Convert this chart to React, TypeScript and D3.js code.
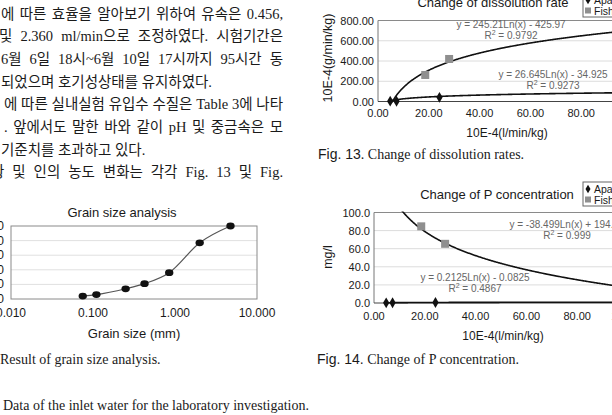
import React from 'react';
import * as d3 from 'd3';

// body text above the figures (left column, cut at the page edge)
const paragraphLines = [
  '에 따른 효율을 알아보기 위하여 유속은 0.456,',
  '및 2.360 ml/min으로 조정하였다. 시험기간은',
  '6월 6일 18시~6월 10일 17시까지 95시간 동',
  '되었으며 호기성상태를 유지하였다.',
  '에 따른 실내실험 유입수 수질은 Table 3에 나타',
  '. 앞에서도 말한 바와 같이 pH 및 중금속은 모',
  '기준치를 초과하고 있다.',
  '황 및 인의 농도 변화는 각각 Fig. 13 및 Fig.',
];
const lineStarts = [1, -1, 1, 1, 4, 4, 1, -9];
const lineJustified = [true, true, true, false, true, true, false, true];

// grain size analysis
const grainSizes = [0.075, 0.11, 0.25, 0.425, 0.85, 2.0, 4.75];
const grainPassing = [4, 6, 14, 21, 36, 77, 100];
const grainYTicks = [0, 20, 40, 60, 80, 100];
const grainXTicks = [0.01, 0.1, 1, 10];

// flow rates (same runs in Fig. 13 and Fig. 14)
const apatiteFlow = [4.8, 7.3, 24.2];
const fishFlow = [18.6, 28.0];
const flowTicks = [0, 20, 40, 60, 80, 100];

// Fig. 13 dissolution rate
const apatiteRate = [3, 2, 41];
const fishRate = [262, 420];
const rateTicks = [0, 200, 400, 600, 800];
const rateFishTrend = [245.21, -425.97, 0.9792];
const rateApatiteTrend = [26.645, -34.925, 0.9273];

// Fig. 14 P concentration
const apatiteP = [0.2, 0.3, 0.5];
const fishP = [84.7, 65.4];
const pTicks = [0, 20, 40, 60, 80, 100];
const pFishTrend = [-38.499, 194.37, 0.999];
const pApatiteTrend = [0.2125, -0.0825, 0.4867];

const legendNames = ['Apatite', 'Fish bone'];

const SANS = "'Liberation Sans', Arial, sans-serif";
const SERIF = "'Liberation Serif', 'Noto Sans CJK KR', serif";
const BODY_SIZE = 14.5;
const BODY_RIGHT = 283;

function eqLabel(t: number[]) {
  const [a, b] = t;
  const sign = b < 0 ? '-' : '+';
  return `y = ${a < 0 ? '-' : ''}${Math.abs(a)}Ln(x) ${sign} ${Math.abs(b)}`;
}

// justify by widening the gaps between words, not the letters
function useWordSpacing() {
  return React.useMemo(() => {
    const ctx = document.createElement('canvas').getContext('2d');
    if (!ctx) return paragraphLines.map(() => 0);
    ctx.font = `${BODY_SIZE}px 'Liberation Serif', 'Noto Sans CJK KR', serif`;
    return paragraphLines.map((s, i) => {
      if (!lineJustified[i]) return 0;
      const gaps = s.split(' ').length - 1;
      const w = ctx.measureText(s).width;
      return Math.max(0, (BODY_RIGHT - lineStarts[i] - w) / gaps);
    });
  }, []);
}

function GrainChart() {
  const x = d3.scaleLog().domain([0.01, 10]).range([11, 257]);
  const y = d3.scaleLinear().domain([0, 100]).range([299, 226]);
  const idx = d3.range(grainSizes.length);
  const line = d3
    .line<number>()
    .x((i) => x(grainSizes[i]))
    .y((i) => y(grainPassing[i]))
    .curve(d3.curveMonotoneX);

  return (
    <g fontFamily={SANS} fill="#1a1a1a">
      <text x={122} y={217} fontSize={13} textAnchor="middle">Grain size analysis</text>
      {grainYTicks.slice(1, -1).map((t) => (
        <line key={t} x1={x(0.01)} x2={x(10)} y1={y(t)} y2={y(t)} stroke="#e0e0e0" />
      ))}
      <rect x={x(0.01)} y={y(100)} width={x(10) - x(0.01)} height={y(0) - y(100)} fill="none" stroke="#8a8a8a" />
      {grainYTicks.map((t) => (
        <text key={t} x={4} y={y(t) + 4} fontSize={12} textAnchor="end">{t}</text>
      ))}
      {grainXTicks.map((t) => (
        <text key={t} x={x(t)} y={317} fontSize={12} textAnchor="middle">{t.toFixed(3)}</text>
      ))}
      <path d={line(idx) ?? ''} fill="none" stroke="#555" strokeWidth={1.2} />
      {idx.map((i) => (
        <ellipse key={i} cx={x(grainSizes[i])} cy={y(grainPassing[i])} rx={4.2} ry={3.4} fill="#111" />
      ))}
      <text x={134} y={338} fontSize={13} textAnchor="middle">Grain size (mm)</text>
    </g>
  );
}

type TrendProps = {
  id: string;
  left: number;
  top: number;
  bottom: number;
  xPerUnit: number;
  yMax: number;
  yTicks: number[];
  yDigits: number;
  title: string;
  titleX: number;
  titleY: number;
  yTitle: string;
  yTitleX: number;
  yTitleY: number;
  xTitleX: number;
  xTitleY: number;
  xLabelY: number;
  apY: number[];
  fiY: number[];
  apTrend: number[];
  fiTrend: number[];
  apEq: number[];
  fiEq: number[];
  legendTop: number;
};

function TrendChart(p: TrendProps) {
  const x = d3.scaleLinear().domain([0, 100]).range([p.left, p.left + p.xPerUnit * 100]);
  const y = d3.scaleLinear().domain([0, p.yMax]).range([p.bottom, p.top]);
  const right = x(100);
  const xs = d3.range(4.5, 100.01, 0.25);
  const trend = (t: number[]) =>
    d3
      .line<number>()
      .x((v) => x(v))
      .y((v) => y(t[0] * Math.log(v) + t[1]))(xs) ?? '';
  const diamond = d3.symbol(d3.symbolDiamond, 34)() ?? '';
  const lx = 588;

  return (
    <g fontFamily={SANS} fill="#1a1a1a">
      <defs>
        <clipPath id={p.id}>
          <rect x={p.left} y={p.top - 1} width={right - p.left} height={p.bottom - p.top + 2} />
        </clipPath>
      </defs>
      <text x={p.titleX} y={p.titleY} fontSize={13} textAnchor="middle">{p.title}</text>
      {p.yTicks.slice(1, -1).map((t) => (
        <line key={t} x1={p.left} x2={right} y1={y(t)} y2={y(t)} stroke="#dcdcdc" />
      ))}
      <line x1={p.left} x2={right} y1={p.top} y2={p.top} stroke="#8a8a8a" />
      <line x1={p.left} x2={p.left} y1={p.top} y2={p.bottom} stroke="#777" />
      <line x1={p.left} x2={right} y1={p.bottom} y2={p.bottom} stroke="#444" />
      {p.yTicks.map((t) => (
        <text key={t} x={p.left - 4} y={y(t) + 4} fontSize={11} textAnchor="end">{t.toFixed(p.yDigits)}</text>
      ))}
      {flowTicks.map((t) => (
        <text key={t} x={x(t)} y={p.xLabelY} fontSize={11} textAnchor="middle">{t.toFixed(2)}</text>
      ))}
      <text
        transform={`translate(${p.yTitleX},${p.yTitleY}) rotate(-90)`}
        fontSize={12.5}
        textAnchor="middle"
      >
        {p.yTitle}
      </text>
      <text x={p.xTitleX} y={p.xTitleY} fontSize={12} textAnchor="middle">10E-4(l/min/kg)</text>

      <g clipPath={`url(#${p.id})`} fill="none" stroke="#111" strokeWidth={1.6}>
        <path d={trend(p.fiTrend)} />
        <path d={trend(p.apTrend)} />
      </g>
      {fishFlow.map((v, i) => (
        <rect key={i} x={x(v) - 4} y={y(p.fiY[i]) - 4} width={8} height={8} fill="#8f8f8f" />
      ))}
      {apatiteFlow.map((v, i) => (
        <path key={i} d={diamond} transform={`translate(${x(v)},${y(p.apY[i])})`} fill="#111" />
      ))}

      <g fontSize={10} fill="#666" textAnchor="middle">
        <text x={p.fiEq[0]} y={p.fiEq[1]}>{eqLabel(p.fiTrend)}</text>
        <text x={p.fiEq[2]} y={p.fiEq[1] + 11}>
          R<tspan dy={-4} fontSize={7}>2</tspan><tspan dy={4}> = {p.fiTrend[2]}</tspan>
        </text>
        <text x={p.apEq[0]} y={p.apEq[1]}>{eqLabel(p.apTrend)}</text>
        <text x={p.apEq[2]} y={p.apEq[1] + 11}>
          R<tspan dy={-4} fontSize={7}>2</tspan><tspan dy={4}> = {p.apTrend[2]}</tspan>
        </text>
      </g>

      <rect x={583} y={p.legendTop} width={60} height={24} fill="#fff" stroke="#666" />
      <path d={d3.symbol(d3.symbolDiamond, 22)() ?? ''} transform={`translate(${lx},${p.legendTop + 7})`} fill="#111" />
      <rect x={lx - 3} y={p.legendTop + 14.5} width={6} height={6} fill="#8f8f8f" />
      <text x={594} y={p.legendTop + 10.5} fontSize={10.5}>{legendNames[0]}</text>
      <text x={594} y={p.legendTop + 21.5} fontSize={10.5}>{legendNames[1]}</text>
    </g>
  );
}

function Caption({ x, y, fig, rest }: { x: number; y: number; fig: string; rest: string }) {
  return (
    <text x={x} y={y} fill="#1a1a1a">
      <tspan fontFamily="'Liberation Sans Narrow', 'Liberation Sans', sans-serif" fontSize={14}>{fig}</tspan>
      <tspan fontFamily={SERIF} fontSize={14}>{rest}</tspan>
    </text>
  );
}

export default function App() {
  const spacing = useWordSpacing();
  return (
    <svg
      width={612}
      height={415}
      viewBox="0 0 612 415"
      style={{ position: 'absolute', left: 0, top: 0, background: '#fff' }}
    >
      <rect width={612} height={415} fill="#fff" />
      <g fontFamily={SERIF} fontSize={BODY_SIZE} fill="#1a1a1a">
        {paragraphLines.map((s, i) => (
          <text
            key={i}
            x={lineStarts[i]}
            y={18.5 + i * 22.7}
            wordSpacing={spacing[i]}
            {...(lineJustified[i] ? { textLength: BODY_RIGHT - lineStarts[i], lengthAdjust: 'spacing' } : {})}
          >
            {s}
          </text>
        ))}
      </g>

      <GrainChart />
      <text x={0} y={364} fontFamily={SERIF} fontSize={14} fill="#1a1a1a">Result of grain size analysis.</text>
      <text x={3} y={410} fontFamily={SERIF} fontSize={14} fill="#1a1a1a">
        Data of the inlet water for the laboratory investigation.
      </text>

      <TrendChart
        id="clip13"
        left={378}
        top={20.5}
        bottom={101.5}
        xPerUnit={2.54}
        yMax={800}
        yTicks={rateTicks}
        yDigits={2}
        title="Change of dissolution rate"
        titleX={493}
        titleY={6.5}
        yTitle="10E-4(g/min/kg)"
        yTitleX={332}
        yTitleY={58}
        xTitleX={507}
        xTitleY={137}
        xLabelY={117}
        apY={apatiteRate}
        fiY={fishRate}
        apTrend={rateApatiteTrend}
        fiTrend={rateFishTrend}
        apEq={[553, 78, 553]}
        fiEq={[511, 28, 511]}
        legendTop={-7}
      />
      <Caption x={318} y={159} fig="Fig. 13" rest=". Change of dissolution rates." />

      <TrendChart
        id="clip14"
        left={374}
        top={212.5}
        bottom={303}
        xPerUnit={2.54}
        yMax={100}
        yTicks={pTicks}
        yDigits={1}
        title="Change of P concentration"
        titleX={497}
        titleY={198.5}
        yTitle="mg/l"
        yTitleX={332}
        yTitleY={257}
        xTitleX={503}
        xTitleY={340}
        xLabelY={320}
        apY={apatiteP}
        fiY={fishP}
        apTrend={pApatiteTrend}
        fiTrend={pFishTrend}
        apEq={[475, 281, 475]}
        fiEq={[567, 228, 567]}
        legendTop={182}
      />
      <Caption x={317} y={364} fig="Fig. 14." rest=" Change of P concentration." />
    </svg>
  );
}
